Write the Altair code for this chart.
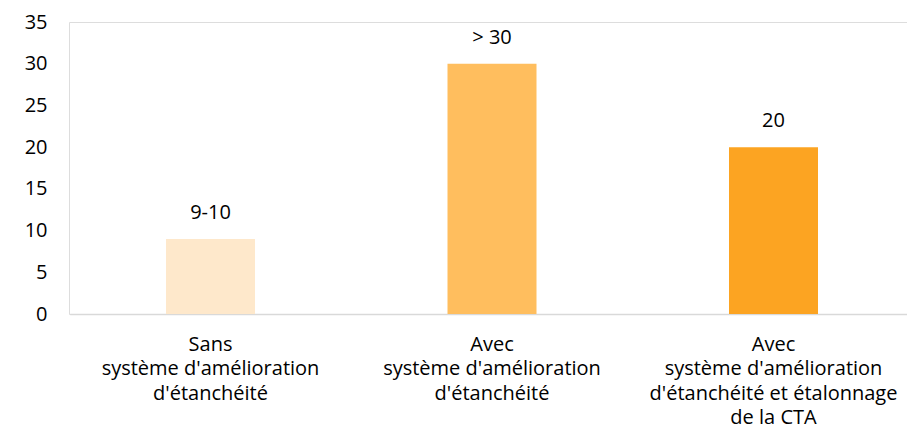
import altair as alt
import pandas as pd

categories = [
    "Sans|système d'amélioration|d'étanchéité",
    "Avec|système d'amélioration|d'étanchéité",
    "Avec|système d'amélioration|d'étanchéité et étalonnage|de la CTA",
]
values = [9, 30, 20]
labels = ["9-10", "> 30", "20"]
colors = ["#FEE8CB", "#FFBE5E", "#FCA422"]

df = pd.DataFrame({"cat": categories, "val": values, "lab": labels, "col": colors})

FONT = "Open Sans"
FS = 20

x = alt.X(
    "cat:N",
    sort=categories,
    title=None,
    scale=alt.Scale(paddingInner=0, paddingOuter=0, range=[0.75, 845.25]),
    axis=alt.Axis(
        labelExpr="split(datum.label, '|')",
        labelAngle=0,
        ticks=False,
        domainColor="#D9D9D9",
        domainWidth=1.5,
        labelFont=FONT,
        labelFontSize=FS,
        labelColor="#000000",
        labelLineHeight=24.5,
        labelPadding=20,
        labelBaseline="top",
        labelLimit=0,
    ),
)

y = alt.Y(
    "val:Q",
    title=None,
    scale=alt.Scale(domain=[0, 35], nice=False),
    axis=alt.Axis(
        values=[0, 5, 10, 15, 20, 25, 30, 35],
        grid=False,
        domain=False,
        ticks=False,
        labelFont=FONT,
        labelFontSize=FS,
        labelColor="#000000",
        labelPadding=22,
    ),
)

bars = alt.Chart(df).mark_bar(size=89).encode(
    x=x,
    y=y,
    color=alt.Color("col:N", scale=None, legend=None),
)

text = alt.Chart(df).mark_text(
    baseline="alphabetic", dy=-20, font=FONT, fontSize=FS, color="#000000"
).encode(x=alt.X("cat:N", sort=categories), y="val:Q", text="lab:N")

chart = (
    (bars + text)
    .properties(
        width=838,
        height=292,
        autosize=alt.AutoSizeParams(type="none"),
        padding={"left": 69, "top": 22, "right": 0, "bottom": 125},
    )
    .configure_view(strokeWidth=0)
    .configure(background="#FFFFFF")
)

chart.save("out.html", embed_options={"renderer": "svg", "actions": False})
